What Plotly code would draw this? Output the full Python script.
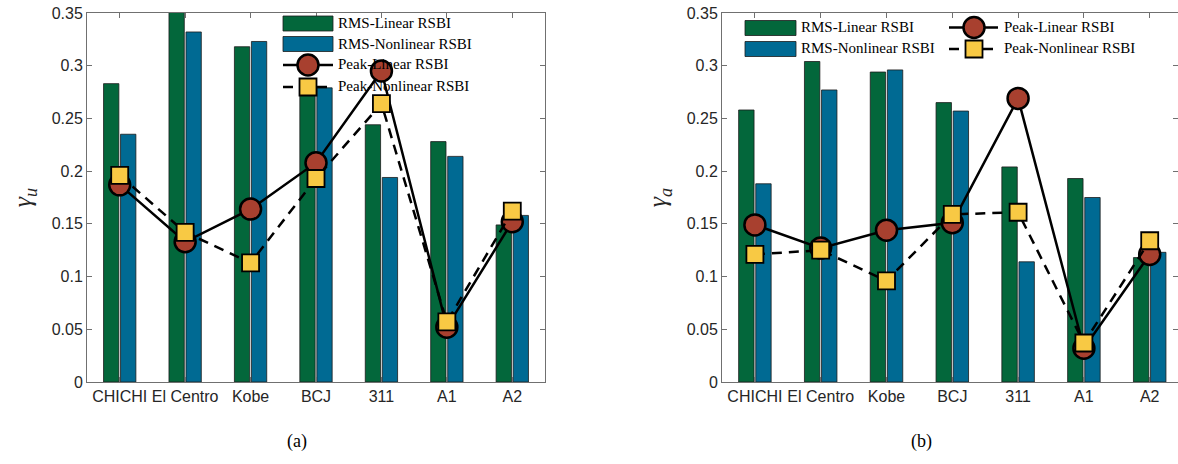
import plotly.graph_objects as go

categories = ["CHICHI", "El Centro", "Kobe", "BCJ", "311", "A1", "A2"]

# Panel (a): gamma_u
rms_linear_u = [0.283, 0.360, 0.318, 0.285, 0.244, 0.228, 0.149]
rms_nonlinear_u = [0.235, 0.332, 0.323, 0.279, 0.194, 0.214, 0.158]
peak_linear_u = [0.187, 0.133, 0.164, 0.208, 0.295, 0.052, 0.152]
peak_nonlinear_u = [0.196, 0.142, 0.113, 0.193, 0.264, 0.057, 0.162]

# Panel (b): gamma_a
rms_linear_a = [0.258, 0.304, 0.294, 0.265, 0.204, 0.193, 0.118]
rms_nonlinear_a = [0.188, 0.277, 0.296, 0.257, 0.114, 0.175, 0.123]
peak_linear_a = [0.149, 0.127, 0.144, 0.151, 0.269, 0.032, 0.121]
peak_nonlinear_a = [0.121, 0.125, 0.096, 0.159, 0.161, 0.037, 0.134]

series_names = ["RMS-Linear RSBI", "RMS-Nonlinear RSBI", "Peak-Linear RSBI", "Peak-Nonlinear RSBI"]

y_ticks = [0, 0.05, 0.1, 0.15, 0.2, 0.25, 0.3, 0.35]
y_ticktext = ["0", "0.05", "0.1", "0.15", "0.2", "0.25", "0.3", "0.35"]

GREEN = "#03673b"
BLUE = "#006a93"
RED = "#a8402f"
YELLOW = "#f8c944"
EDGE = "#1c1c1c"
AXIS = "#707070"
TXT = "#262626"
DASH = "10px,7px"

W, H = 1178, 464

fig = go.Figure()


def add_panel(xa, ya, rl, rn, pl, pn):
    fig.add_trace(go.Bar(x=categories, y=rl, name=series_names[0], xaxis=xa, yaxis=ya,
                         marker=dict(color=GREEN, line=dict(color=EDGE, width=0.8)), showlegend=False))
    fig.add_trace(go.Bar(x=categories, y=rn, name=series_names[1], xaxis=xa, yaxis=ya,
                         marker=dict(color=BLUE, line=dict(color=EDGE, width=0.8)), showlegend=False))
    fig.add_trace(go.Scatter(x=categories, y=pl, name=series_names[2], xaxis=xa, yaxis=ya,
                             mode="lines+markers", line=dict(color="black", width=2.5),
                             marker=dict(symbol="circle", size=21, color=RED,
                                         line=dict(color="black", width=2.5)), showlegend=False))
    fig.add_trace(go.Scatter(x=categories, y=pn, name=series_names[3], xaxis=xa, yaxis=ya,
                             mode="lines+markers", line=dict(color="black", width=2.5, dash=DASH),
                             marker=dict(symbol="square", size=17, color=YELLOW,
                                         line=dict(color="black", width=1.8)), showlegend=False))


add_panel("x", "y", rms_linear_u, rms_nonlinear_u, peak_linear_u, peak_nonlinear_u)
add_panel("x2", "y2", rms_linear_a, rms_nonlinear_a, peak_linear_a, peak_nonlinear_a)

xcommon = dict(type="category", ticks="inside", ticklen=5, tickcolor=AXIS, showline=True,
               linecolor=AXIS, linewidth=1, mirror="ticks", showgrid=False, zeroline=False,
               tickfont=dict(family="Liberation Sans, Arial", size=16, color=TXT))
ycommon = dict(range=[0, 0.35], tickvals=y_ticks, ticktext=y_ticktext, ticks="inside", ticklen=5,
               tickcolor=AXIS, showline=True, linecolor=AXIS, linewidth=1, mirror="ticks",
               showgrid=False, zeroline=False,
               tickfont=dict(family="Liberation Sans, Arial", size=16, color=TXT))


def px(x):
    return x / W


def py(y):
    return 1 - y / H


# ---- legend keys (decorations in paper coordinates) ----
shapes = []
annotations = []
LEG_FONT = dict(family="Liberation Serif", size=15, color="black")


def leg_patch(x0, x1, yc, color):
    shapes.append(dict(type="rect", xref="paper", yref="paper", x0=px(x0), x1=px(x1),
                       y0=py(yc + 7.5), y1=py(yc - 7.5), fillcolor=color,
                       line=dict(color=EDGE, width=0.8)))


def leg_line(x0, x1, yc, dash=None):
    shapes.append(dict(type="line", xref="paper", yref="paper", x0=px(x0), x1=px(x1),
                       y0=py(yc), y1=py(yc), line=dict(color="black", width=2.5,
                                                       dash=dash if dash else "solid")))


def leg_circle(xc, yc):
    r = 10.5
    shapes.append(dict(type="circle", xref="paper", yref="paper", x0=px(xc - r), x1=px(xc + r),
                       y0=py(yc + r), y1=py(yc - r), fillcolor=RED,
                       line=dict(color="black", width=2.5)))


def leg_square(xc, yc):
    r = 8.5
    shapes.append(dict(type="rect", xref="paper", yref="paper", x0=px(xc - r), x1=px(xc + r),
                       y0=py(yc + r), y1=py(yc - r), fillcolor=YELLOW,
                       line=dict(color="black", width=1.8)))


def leg_text(x, yc, text):
    annotations.append(dict(text=text, x=px(x), y=py(yc), xref="paper", yref="paper",
                            xanchor="left", yanchor="middle", showarrow=False, font=LEG_FONT))


# panel (a) legend: one column
leg_patch(283, 333, 23.5, GREEN); leg_text(336, 23, series_names[0])
leg_patch(283, 333, 44, BLUE); leg_text(336, 43.5, series_names[1])
leg_line(283, 333, 65); leg_circle(308, 65); leg_text(336, 64.5, series_names[2])
leg_line(283, 333, 87, DASH); leg_square(308, 87); leg_text(336, 86, series_names[3])

# panel (b) legend: two columns
leg_patch(745, 796, 28, GREEN); leg_text(799, 27, series_names[0])
leg_patch(745, 796, 49, BLUE); leg_text(799, 48, series_names[1])
leg_line(949, 998, 27.5); leg_circle(974, 27.5); leg_text(1002, 27, series_names[2])
leg_line(949, 998, 49, DASH); leg_square(974, 49); leg_text(1002, 48, series_names[3])

annotations += [
    dict(text="(a)", x=px(297), y=py(441), xref="paper", yref="paper", xanchor="center",
         yanchor="middle", showarrow=False, font=dict(family="Liberation Serif", size=18, color="black")),
    dict(text="(b)", x=px(922), y=py(441), xref="paper", yref="paper", xanchor="center",
         yanchor="middle", showarrow=False, font=dict(family="Liberation Serif", size=18, color="black")),
]

ydom = [(H - 382) / H, (H - 13) / H]

fig.update_layout(
    width=W, height=H,
    margin=dict(l=0, r=0, t=0, b=0, autoexpand=False),
    paper_bgcolor="white", plot_bgcolor="white",
    showlegend=False,
    barmode="group", bargap=0.48, bargroupgap=0.1,
    xaxis=dict(xcommon, domain=[87 / W, 545 / W], range=[-0.5, 6.5], anchor="y"),
    yaxis=dict(ycommon, domain=ydom, anchor="x",
               title=dict(text="<i>γ<sub>u</sub></i>", standoff=12,
                          font=dict(family="Liberation Serif", size=26, color=TXT))),
    xaxis2=dict(xcommon, domain=[722 / W, 1.0], range=[-0.5, 6.43], anchor="y2"),
    yaxis2=dict(ycommon, domain=ydom, anchor="x2",
                title=dict(text="<i>γ<sub>a</sub></i>", standoff=12,
                           font=dict(family="Liberation Serif", size=26, color=TXT))),
    shapes=shapes,
    annotations=annotations,
)

fig.write_html("out.html")
